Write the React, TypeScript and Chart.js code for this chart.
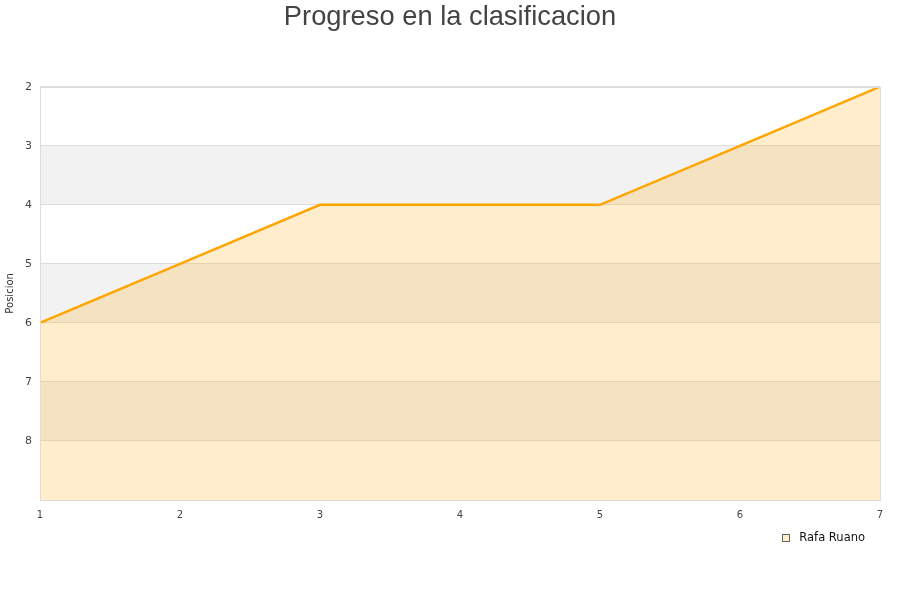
import React, { useEffect, useRef } from "react";
import { Chart, registerables } from "chart.js";

Chart.register(...registerables);

// Matchdays and the league position held after each one
const jornadas = [1, 2, 3, 4, 5, 6, 7];
const posiciones = [6, 5, 4, 4, 4, 3, 2];
const jugador = "Rafa Ruano";
const titulo = "Progreso en la clasificacion";
const tituloEje = "Posicion";
// Alternate shaded rows of the position axis
const franjas: [number, number][] = [
  [3, 4],
  [5, 6],
  [7, 8],
];

const AREA_FILL = "rgba(255,165,0,0.2)";
const LINE_COLOR = "#ffa500";

const decorPlugin = {
  id: "decor",
  beforeDraw(chart: any) {
    const { ctx, chartArea, scales } = chart;
    const y = scales.y;
    ctx.save();
    ctx.fillStyle = "#f2f2f2";
    for (const [a, b] of franjas) {
      const p1 = y.getPixelForValue(a);
      const p2 = y.getPixelForValue(b);
      ctx.fillRect(chartArea.left, p1, chartArea.right - chartArea.left, p2 - p1);
    }
    ctx.restore();
  },
  afterDraw(chart: any) {
    const { ctx, chartArea } = chart;
    ctx.save();
    // plot frame
    ctx.strokeStyle = "#dddddd";
    ctx.lineWidth = 1;
    ctx.strokeRect(
      Math.round(chartArea.left) + 0.5,
      Math.round(chartArea.top) + 0.5,
      Math.round(chartArea.right - chartArea.left),
      Math.round(chartArea.bottom - chartArea.top)
    );
    // legend, bottom right under the plot
    ctx.font = "11.5px 'DejaVu Sans', sans-serif";
    ctx.textBaseline = "middle";
    ctx.textAlign = "right";
    const tx = Math.round(chartArea.right - 15);
    const ty = Math.round(chartArea.bottom + 38);
    ctx.fillStyle = "#111111";
    ctx.fillText(jugador, tx, ty);
    const w = ctx.measureText(jugador).width;
    const bx = Math.round(tx - w - 17);
    ctx.fillStyle = AREA_FILL;
    ctx.fillRect(bx, ty - 4, 7, 7);
    ctx.strokeStyle = "#666666";
    ctx.strokeRect(bx + 0.5, ty - 3.5, 7, 7);
    ctx.restore();
  },
};

export default function App() {
  const ref = useRef<HTMLCanvasElement>(null);

  useEffect(() => {
    document.body.style.margin = "0";
    const chart = new Chart(ref.current!, {
      type: "line",
      data: {
        datasets: [
          {
            label: jugador,
            data: jornadas.map((j, i) => ({ x: j, y: posiciones[i] })),
            borderColor: LINE_COLOR,
            backgroundColor: AREA_FILL,
            borderWidth: 2.5,
            pointRadius: 0,
            tension: 0,
            fill: { value: 9 },
          },
        ],
      },
      options: {
        responsive: false,
        animation: false,
        layout: { padding: 0 },
        plugins: {
          title: {
            display: true,
            text: titulo,
            color: "#444444",
            font: { family: "'Liberation Sans', Arial, sans-serif", size: 27.3, weight: "normal" },
            padding: { top: 1, bottom: 53 },
          },
          legend: { display: false },
          tooltip: { enabled: false },
        },
        scales: {
          x: {
            type: "linear",
            min: 1,
            max: 7,
            grid: { display: false },
            border: { display: false },
            ticks: {
              stepSize: 1,
              padding: 1,
              color: "#444444",
              font: { family: "'DejaVu Sans', sans-serif", size: 10 },
            },
            afterFit: (s: any) => {
              s.height = 100;
              s.paddingRight = 20;
            },
          },
          y: {
            reverse: true,
            min: 2,
            max: 9,
            grid: { color: "#dddddd", drawTicks: false },
            border: { display: false },
            title: {
              display: true,
              text: tituloEje,
              color: "#333333",
              font: { family: "'DejaVu Sans', sans-serif", size: 10 },
              padding: { top: 4, bottom: 4 },
            },
            ticks: {
              stepSize: 1,
              padding: 8,
              color: "#444444",
              font: { family: "'DejaVu Sans', sans-serif", size: 11 },
              callback: (v: any) => (v === 9 ? "" : String(v)),
            },
            afterFit: (s: any) => {
              s.width = 40;
            },
          },
        },
      },
      plugins: [decorPlugin],
    });
    return () => chart.destroy();
  }, []);

  return <canvas ref={ref} width={900} height={600} style={{ display: "block" }} />;
}
